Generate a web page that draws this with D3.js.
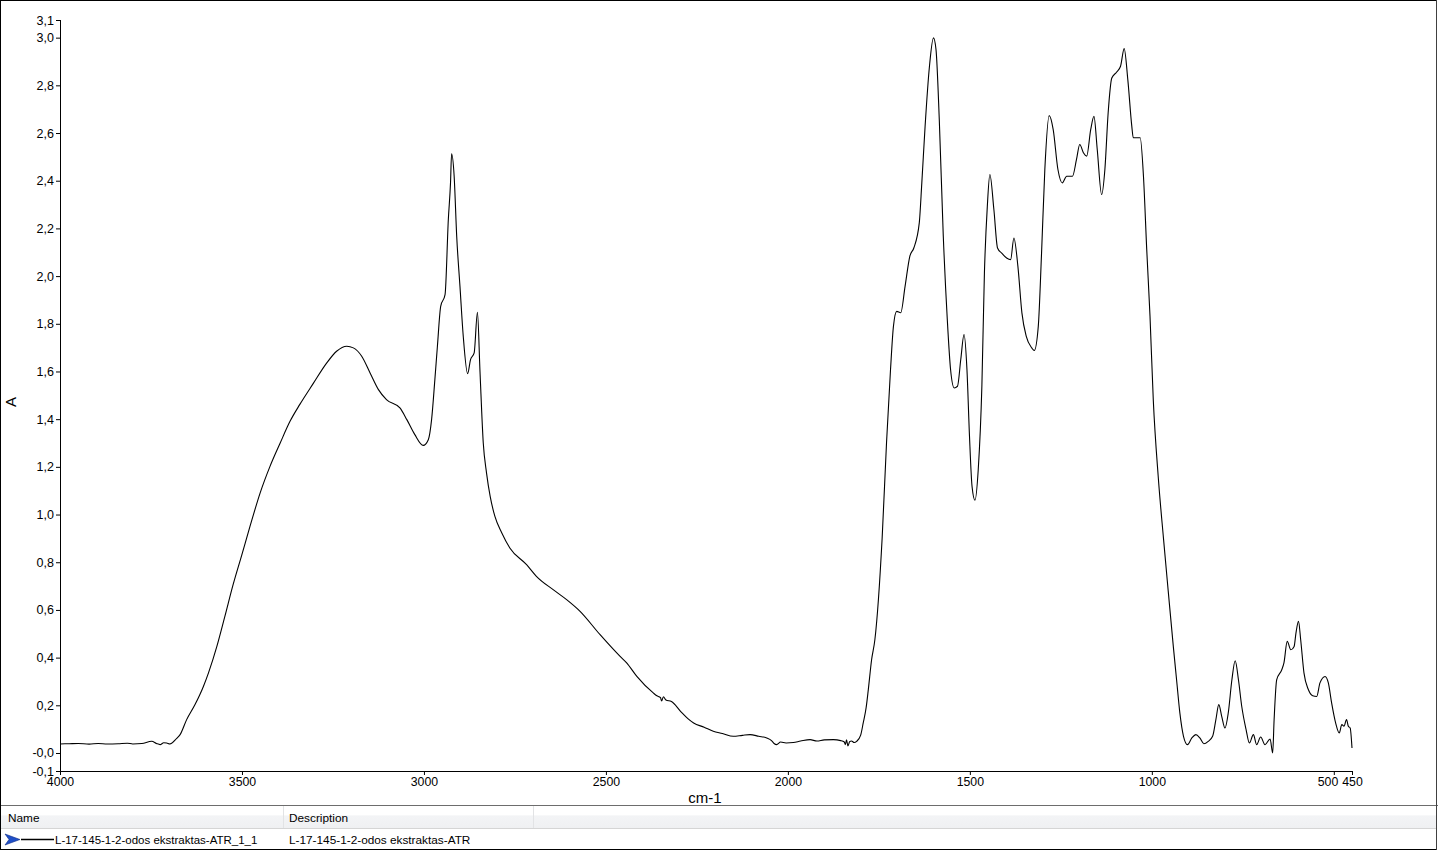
<!DOCTYPE html>
<html>
<head>
<meta charset="utf-8">
<script src="https://cdn.jsdelivr.net/npm/d3@7/dist/d3.min.js"></script>
<style>
  html, body { margin: 0; padding: 0; background: #fff; }
  svg { display: block; }
  text { font-family: "Liberation Sans", Arial, sans-serif; fill: #000; }
</style>
</head>
<body>
<svg id="chart" width="1438" height="850"></svg>
<script>
// ---- data ----
const wavenumbers = [
  4000,3975,3950,3920,3895,3870,3840,3815,3800,3775,3748,3735,3725,3715,3707,3698,3680,3670,3652,3629,
  3606,3592,3569,3547,3524,3501,3478,3450,3423,3395,3368,3341,3304,3267,3240,3212,3194,3171,3148,3125,
  3103,3066,3047,3025,3002,2988,2979,2970,2963,2954,2942,2933,2927,2924,2917,2910,2901,2892,2880,2872,
  2862,2853,2846,2837,2828,2818,2805,2786,2764,2718,2691,2645,2608,2571,2516,2461,2443,2415,2370,2360,
  2350,2347,2342,2335,2320,2295,2274,2259,2230,2205,2180,2150,2125,2104,2080,2058,2045,2038,2031,2020,
  2005,1985,1965,1939,1920,1900,1875,1855,1845,1842,1839,1835,1830,1825,1818,1811,1800,1793,1785,1779,
  1770,1761,1741,1729,1718,1710,1701,1690,1678,1665,1654,1639,1632,1623,1611,1600,1593,1584,1573,1562,
  1553,1543,1534,1525,1516,1508,1501,1494,1486,1477,1467,1460,1452,1445,1434,1424,1413,1399,1388,1379,
  1368,1357,1345,1330,1323,1312,1303,1294,1282,1271,1258,1246,1234,1218,1207,1198,1188,1179,1168,1159,
  1150,1138,1129,1120,1110,1097,1086,1076,1066,1055,1051,1032,1023,1014,1005,996,982,968,955,941,
  932,923,913,902,890,879,868,857,845,833,824,816,808,799,790,780,771,762,753,741,
  732,721,712,701,689,675,668,664,657,643,637,628,618,609,604,597,591,582,570,558,
  547,538,524,515,506,495,485,478,472,465,460,455,450
];
const absorbance = [
  0.038,0.039,0.040,0.037,0.040,0.038,0.039,0.041,0.038,0.040,0.049,0.040,0.035,0.043,0.042,0.038,0.060,0.077,0.140,0.203,
  0.279,0.336,0.447,0.573,0.708,0.828,0.950,1.091,1.202,1.300,1.391,1.462,1.550,1.636,1.685,1.706,1.699,1.664,1.594,1.524,
  1.482,1.447,1.398,1.335,1.290,1.314,1.398,1.566,1.706,1.873,1.922,2.237,2.391,2.513,2.419,2.167,1.957,1.748,1.591,1.650,
  1.678,1.848,1.600,1.300,1.174,1.076,0.992,0.923,0.860,0.790,0.741,0.685,0.643,0.594,0.496,0.405,0.378,0.321,0.252,0.240,
  0.232,0.218,0.236,0.222,0.216,0.175,0.143,0.126,0.108,0.091,0.082,0.070,0.074,0.077,0.070,0.063,0.052,0.040,0.035,0.046,
  0.042,0.044,0.050,0.056,0.050,0.055,0.056,0.052,0.046,0.035,0.055,0.030,0.048,0.050,0.044,0.049,0.075,0.126,0.190,0.266,
  0.391,0.475,0.902,1.300,1.608,1.789,1.852,1.846,1.957,2.083,2.118,2.223,2.391,2.628,2.880,2.999,2.950,2.656,2.167,1.818,
  1.608,1.531,1.538,1.650,1.755,1.608,1.328,1.118,1.060,1.188,1.538,2.013,2.293,2.426,2.279,2.118,2.097,2.076,2.069,2.160,
  2.041,1.846,1.747,1.699,1.688,1.789,2.097,2.447,2.673,2.614,2.447,2.391,2.419,2.419,2.489,2.552,2.517,2.503,2.614,2.670,
  2.531,2.342,2.447,2.685,2.831,2.855,2.880,2.954,2.824,2.628,2.580,2.580,2.419,2.111,1.831,1.480,1.150,0.900,0.680,0.447,
  0.307,0.168,0.070,0.035,0.063,0.077,0.063,0.039,0.049,0.070,0.140,0.203,0.154,0.105,0.168,0.307,0.387,0.307,0.196,0.098,
  0.042,0.077,0.035,0.067,0.035,0.059,0.000,0.140,0.307,0.349,0.378,0.468,0.433,0.447,0.503,0.552,0.475,0.336,0.266,0.240,
  0.237,0.294,0.321,0.294,0.210,0.126,0.084,0.119,0.112,0.140,0.112,0.105,0.021
];
const xTickValues = [4000, 3500, 3000, 2500, 2000, 1500, 1000, 500, 450];
const xTickLabels = ["4000", "3500", "3000", "2500", "2000", "1500", "1000", "500", "450"];
const yTickValues = [-0.0755, 0, 0.2, 0.4, 0.6, 0.8, 1.0, 1.2, 1.4, 1.6, 1.8, 2.0, 2.2, 2.4, 2.6, 2.8, 3.0, 3.074];
const yTickLabels = ["-0,1", "-0,0", "0,2", "0,4", "0,6", "0,8", "1,0", "1,2", "1,4", "1,6", "1,8", "2,0", "2,2", "2,4", "2,6", "2,8", "3,0", "3,1"];
const xTitle = "cm-1";
const yTitle = "A";
const columnHeaders = ["Name", "Description"];
const seriesName = "L-17-145-1-2-odos ekstraktas-ATR_1_1";
const seriesDescription = "L-17-145-1-2-odos ekstraktas-ATR";

// ---- drawing ----
const W = 1438, H = 850;
const svg = d3.select("#chart");
const plot = { left: 60, right: 1352, top: 20, bottom: 771 };

const x = d3.scaleLinear().domain([4000, 450]).range([plot.left, plot.right]);
const y = d3.scaleLinear().domain([-0.0755, 3.074]).range([plot.bottom, plot.top]);

svg.append("rect").attr("x", 0).attr("y", 0).attr("width", W).attr("height", H).attr("fill", "#fff");

// axes
const yAxis = d3.axisLeft(y).tickValues(yTickValues)
  .tickFormat((d, i) => yTickLabels[i]).tickSize(4).tickPadding(2);
const gy = svg.append("g").attr("transform", `translate(${plot.left},0)`).call(yAxis);
gy.select(".domain").attr("stroke", "#000").attr("d", `M0.5,${plot.top}V${plot.bottom}`);
gy.selectAll(".tick line").attr("stroke", "#000");
gy.selectAll(".tick text").style("font-size", "12.5px").attr("fill", "#000")
  .style("font-family", "'Liberation Sans', Arial, sans-serif");

const xAxis = d3.axisBottom(x).tickValues(xTickValues)
  .tickFormat((d, i) => xTickLabels[i]).tickSize(4).tickPadding(2);
const gx = svg.append("g").attr("transform", `translate(0,${plot.bottom})`).call(xAxis);
gx.select(".domain").attr("stroke", "#000").attr("d", `M${plot.left},0.5H${plot.right}`);
gx.selectAll(".tick line").attr("stroke", "#000");
gx.selectAll(".tick text").style("font-size", "12.3px").attr("fill", "#000")
  .style("font-family", "'Liberation Sans', Arial, sans-serif");
// the "500" label is pushed left so it does not collide with "450"
gx.selectAll(".tick text").filter(d => d === 500)
  .attr("text-anchor", "end").attr("x", 4);
gx.selectAll(".tick text").filter(d => d === 450)
  .attr("text-anchor", "middle").attr("x", 0);

// axis titles
svg.append("text").attr("x", 705).attr("y", 803).attr("text-anchor", "middle")
  .style("font-size", "15px").text(xTitle);
svg.append("text").attr("transform", "translate(16,402) rotate(-90)")
  .attr("text-anchor", "middle").style("font-size", "15px").text(yTitle);

// spectrum line
const data = wavenumbers.map((w, i) => [w, absorbance[i]]);
const line = d3.line().x(d => x(d[0])).y(d => y(d[1])).curve(d3.curveMonotoneX);
svg.append("path").datum(data).attr("d", line)
  .attr("fill", "none").attr("stroke", "#000").attr("stroke-width", 1.1)
  .attr("stroke-linejoin", "round");

// ---- bottom legend table ----
const defs = svg.append("defs");
const grad = defs.append("linearGradient").attr("id", "hdr").attr("x1", 0).attr("y1", 0).attr("x2", 0).attr("y2", 1);
grad.append("stop").attr("offset", "0%").attr("stop-color", "#ffffff");
grad.append("stop").attr("offset", "40%").attr("stop-color", "#ffffff");
grad.append("stop").attr("offset", "45%").attr("stop-color", "#f3f4f6");
grad.append("stop").attr("offset", "100%").attr("stop-color", "#eff0f2");

svg.append("rect").attr("x", 1).attr("y", 806).attr("width", W - 3).attr("height", 22).attr("fill", "url(#hdr)");
svg.append("line").attr("x1", 0).attr("x2", W).attr("y1", 805.5).attr("y2", 805.5).attr("stroke", "#6d6d6d");
svg.append("line").attr("x1", 1).attr("x2", W - 2).attr("y1", 828.5).attr("y2", 828.5).attr("stroke", "#d5d5d5");
[283.5, 533.5].forEach(cx => {
  svg.append("line").attr("x1", cx).attr("x2", cx).attr("y1", 806).attr("y2", 828).attr("stroke", "#e2e3e5");
});
svg.append("text").attr("x", 8).attr("y", 822).style("font-size", "11.8px").text(columnHeaders[0]);
svg.append("text").attr("x", 289).attr("y", 822).style("font-size", "11.8px").text(columnHeaders[1]);

// row
svg.append("path").attr("d", "M5,834 L20,839.5 L5,845 L9,839.5 Z").attr("fill", "#1f4fc8").attr("stroke", "#0d2c86").attr("stroke-width", 0.6);
svg.append("line").attr("x1", 21).attr("x2", 54).attr("y1", 839.5).attr("y2", 839.5).attr("stroke", "#000").attr("stroke-width", 1.5);
svg.append("text").attr("x", 55).attr("y", 844).style("font-size", "11.5px").text(seriesName);
svg.append("text").attr("x", 289).attr("y", 844).style("font-size", "11.8px").text(seriesDescription);

// outer frame
svg.append("rect").attr("x", 0.5).attr("y", 0.5).attr("width", W - 2).attr("height", H - 1)
  .attr("fill", "none").attr("stroke", "#000");
svg.append("line").attr("x1", W - 1.5).attr("x2", W - 1.5).attr("y1", 0).attr("y2", H).attr("stroke", "#404040");
</script>
</body>
</html>
